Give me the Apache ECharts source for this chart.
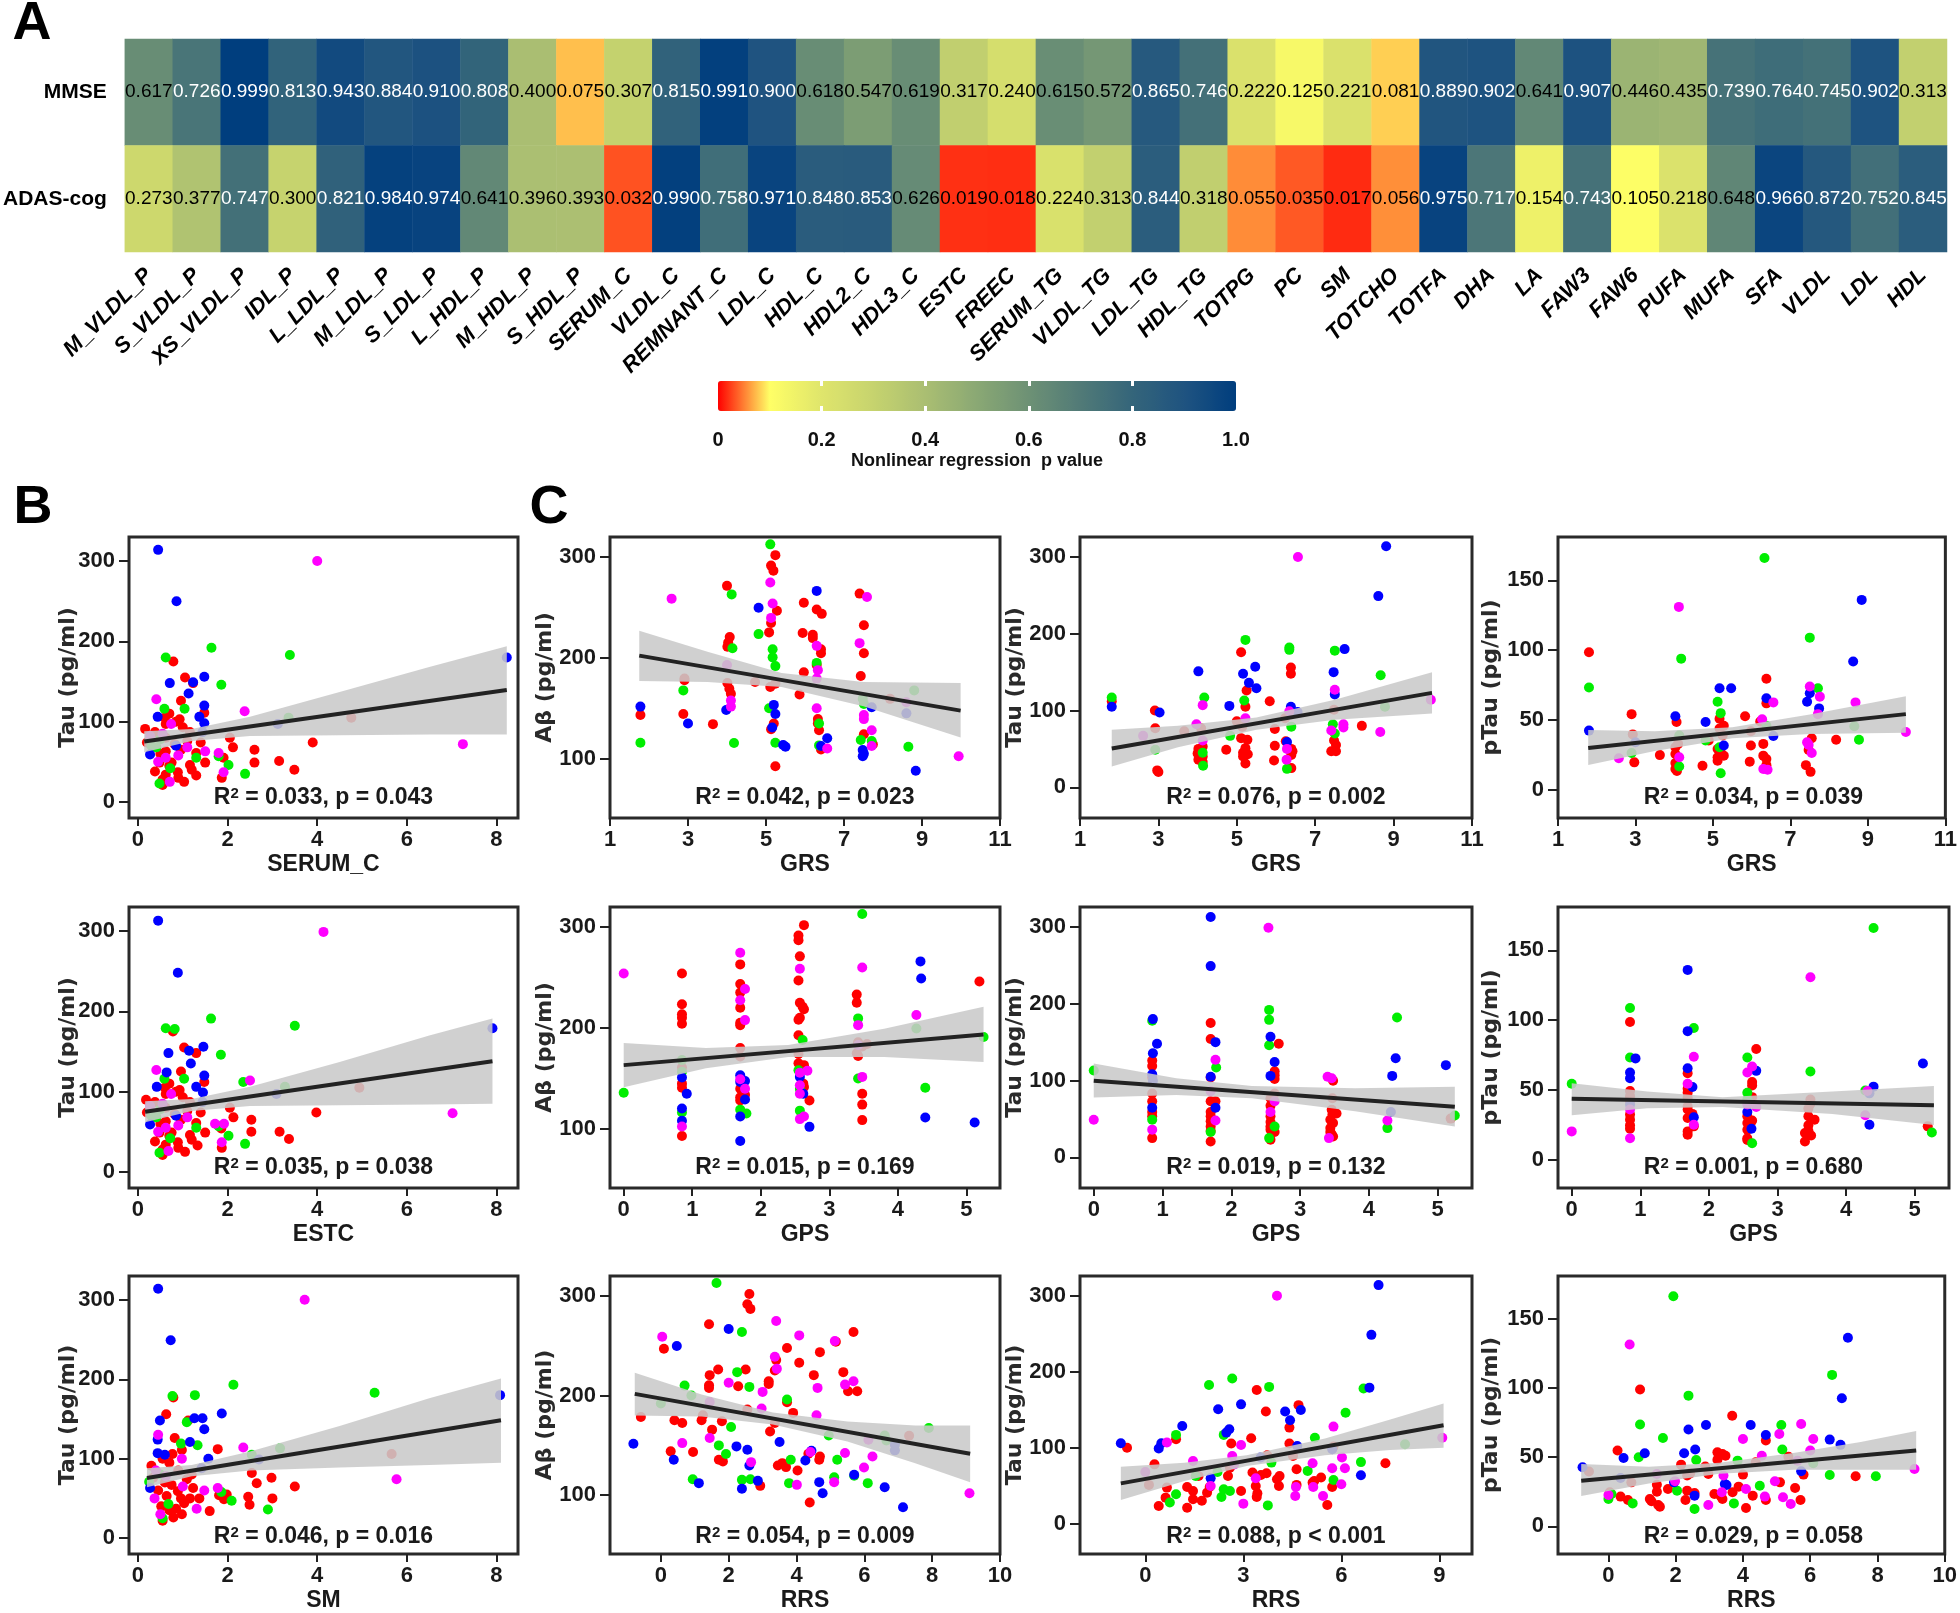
<!DOCTYPE html>
<html><head><meta charset="utf-8">
<script src="https://cdn.jsdelivr.net/npm/echarts@6/dist/echarts.min.js"></script>
<style>html,body{margin:0;padding:0;background:#fff}#c{width:1960px;height:1613px}</style>
</head><body><div id="c"></div><script>
// ---------------- Heatmap data ----------------
const categories = ['M_VLDL_P','S_VLDL_P','XS_VLDL_P','IDL_P','L_LDL_P','M_LDL_P','S_LDL_P','L_HDL_P','M_HDL_P','S_HDL_P','SERUM_C','VLDL_C','REMNANT_C','LDL_C','HDL_C','HDL2_C','HDL3_C','ESTC','FREEC','SERUM_TG','VLDL_TG','LDL_TG','HDL_TG','TOTPG','PC','SM','TOTCHO','TOTFA','DHA','LA','FAW3','FAW6','PUFA','MUFA','SFA','VLDL','LDL','HDL'];
const rowNames = ['MMSE','ADAS-cog'];
const mmseP = [0.617,0.726,0.999,0.813,0.943,0.884,0.910,0.808,0.400,0.075,0.307,0.815,0.991,0.900,0.618,0.547,0.619,0.317,0.240,0.615,0.572,0.865,0.746,0.222,0.125,0.221,0.081,0.889,0.902,0.641,0.907,0.446,0.435,0.739,0.764,0.745,0.902,0.313];
const adasP = [0.273,0.377,0.747,0.300,0.821,0.984,0.974,0.641,0.396,0.393,0.032,0.990,0.758,0.971,0.848,0.853,0.626,0.019,0.018,0.224,0.313,0.844,0.318,0.055,0.035,0.017,0.056,0.975,0.717,0.154,0.743,0.105,0.218,0.648,0.966,0.872,0.752,0.845];
const colorbarTicks = [0,0.2,0.4,0.6,0.8,1];
const colorbarNotches = [0.2,0.4,0.6,0.8];
const pColors = ['#ff0000','#ffff66','#dfe56c','#c6d36e','#aabe72','#8aa874','#6d9175','#517a77','#34657a','#1f5380','#003e7e'];

// ---------------- Tick labels ----------------
const bTicks = [0,2,4,6,8];
const tauTicks = [0,100,200,300];
const abTicks = [100,200,300];
const ptauTicks = [0,50,100,150];
const grsTicks = [1,3,5,7,9,11];
const gpsTicks = [0,1,2,3,4,5];
const rrsTicks = [0,2,4,6,8,10];
const rrsTicks3 = [0,3,6,9];

// ---------------- B1: Tau vs SERUM_C ----------------
const b1Red = [[0.79,175],[1.05,155],[1.23,148],[0.96,126],[1.48,111],[0.93,103],[4.76,105],[0.62,97],[0.16,91],[2.05,80],[3.9,74],[0.2,74],[0.62,63],[0.96,65],[1.3,61],[2.12,68],[2.6,65],[1.91,55],[2.6,49],[3.15,51],[1.5,49],[1.16,46],[0.75,49],[0.48,49],[3.49,40],[1.87,30],[1.3,33],[1.03,25],[0.55,21],[0.38,38],[0.62,34],[0.89,37],[0.38,87],[0.62,80],[0.82,72],[1.1,76],[1.16,87],[1.0,93],[1.4,74],[0.7,110],[0.85,100],[0.6,105],[0.5,60],[0.7,45],[1.2,40],[0.9,30],[0.55,28]];
const b1Green = [[1.64,192],[0.62,180],[3.39,183],[1.86,146],[1.04,116],[0.59,116],[3.36,105],[0.41,68],[1.8,57],[2.02,46],[2.39,35],[0.48,23],[0.72,42],[0.3,70],[1.3,55],[0.5,78]];
const b1Blue = [[0.45,314],[0.86,250],[8.23,180],[1.48,156],[0.71,148],[1.23,149],[1.13,135],[1.48,120],[0.44,106],[1.37,106],[3.12,97],[1.48,98],[1.44,87],[0.27,59],[0.85,70]];
const b1Magenta = [[4.0,300],[0.41,128],[2.38,113],[0.74,97],[7.25,72],[0.27,82],[1.5,63],[1.8,61],[0.62,55],[1.91,37],[0.71,25],[0.55,85],[1.1,68],[0.9,58],[0.45,50]];
const b1Line = [[0.14,75.2],[8.23,139.4]];
const b1BandX = [0.14,1.2,2.5,4.5,6.5,8.23];
const b1BandHi = [88,91,106,137,168,194];
const b1BandLo = [62,76,82,83,84,84];

// ---------------- B2: Tau vs ESTC ----------------
const b2Red = [[0.78,175],[1.03,155],[1.3,148],[0.96,125],[1.48,112],[0.93,102],[4.94,105],[0.62,97],[0.18,90],[2.05,80],[3.98,74],[0.2,74],[2.13,68],[2.53,65],[1.86,54],[2.53,50],[3.16,50],[3.37,41],[1.87,30],[1.33,33],[1.05,25],[0.55,21],[0.38,38],[0.62,34],[0.89,37],[0.38,87],[0.62,80],[0.82,72],[1.1,76],[1.16,87],[1.0,93],[1.4,74],[0.7,110],[0.85,100],[0.6,105],[0.5,60],[0.7,45],[1.2,40],[0.9,30],[0.55,28],[1.5,49],[1.16,46],[0.75,49],[0.48,49],[0.96,65],[1.3,61],[0.62,63]];
const b2Green = [[1.63,191],[0.62,179],[0.82,178],[3.5,182],[1.85,146],[1.03,116],[0.59,116],[2.35,112],[3.28,106],[0.41,68],[1.8,57],[2.02,45],[2.39,35],[0.48,24],[0.72,42],[0.3,70],[1.3,55],[0.5,78]];
const b2Blue = [[0.45,313],[0.89,248],[7.91,179],[1.46,156],[0.68,148],[1.14,151],[1.18,135],[0.64,124],[1.48,120],[0.42,106],[1.3,106],[3.09,97],[1.45,99],[1.44,87],[0.27,59],[0.85,70]];
const b2Magenta = [[4.14,299],[0.41,127],[2.5,114],[0.74,97],[7.02,73],[0.27,82],[1.72,60],[1.92,60],[0.62,55],[1.87,37],[0.68,26],[0.55,85],[1.1,68],[0.9,58],[0.45,50]];
const b2Line = [[0.16,74.9],[7.91,138]];
const b2BandX = [0.16,1.2,2.5,4.5,6.5,7.91];
const b2BandHi = [88,91,106,137,170,191];
const b2BandLo = [62,76,82,83,84,85];

// ---------------- B3: Tau vs SM ----------------
const b3Red = [[0.79,177],[0.63,156],[1.12,148],[0.82,126],[1.78,112],[0.98,111],[5.66,106],[0.77,106],[0.3,91],[2.54,82],[2.98,76],[2.65,69],[3.5,65],[1.81,54],[1.98,55],[1.92,49],[2.46,52],[3.0,50],[2.49,42],[1.6,34],[1.37,50],[0.98,30],[0.79,26],[0.55,22],[1.03,44],[1.16,50],[0.89,59],[0.64,53],[0.52,40],[0.34,76],[0.75,67],[1.09,74],[1.23,63],[0.96,50],[0.85,37],[0.55,100],[0.7,95],[0.9,85],[0.6,70],[1.2,80],[0.45,60],[0.7,35]];
const b3Green = [[2.13,193],[5.28,183],[0.77,179],[1.27,180],[1.09,146],[1.33,117],[0.96,119],[3.17,113],[2.54,105],[1.86,58],[2.09,47],[2.9,36],[0.55,25],[0.25,71],[0.68,43],[0.5,80]];
const b3Blue = [[0.45,314],[0.73,249],[8.08,180],[1.87,157],[0.49,148],[1.26,151],[1.44,151],[1.48,137],[0.44,124],[1.16,121],[0.44,107],[1.57,100],[2.7,99],[1.42,88],[0.27,63],[0.6,105]];
const b3Magenta = [[3.72,300],[0.45,130],[2.35,114],[0.98,100],[5.77,74],[1.48,60],[1.78,63],[0.5,30],[1.31,37],[0.37,50],[0.62,78],[0.4,85],[1.0,65]];
const b3Line = [[0.2,75.7],[8.1,148.5]];
const b3BandX = [0.2,1.2,2.5,4.5,6.5,8.1];
const b3BandHi = [88,92,109,141,176,201];
const b3BandLo = [64,78,85,89,92,95];

// ---------------- C row 1: GRS ----------------
const abGrsRed = [[5.24,302],[5.13,291.6],[5.19,286.6],[4.0,271.5],[7.4,263.8],[5.97,254.8],[5.28,246.7],[6.3,248],[6.43,243.7],[5.13,234.7],[7.51,232.3],[5.08,225.3],[5.94,224.6],[6.2,223],[6.2,219.6],[4.07,220.6],[4.03,215.2],[4.01,211],[6.41,208.5],[6.41,204.5],[7.51,204.5],[6.3,192.8],[5.97,185.8],[7.43,182],[2.91,179.4],[2.91,177.7],[4.72,176],[4.01,175],[5.24,174.4],[5.11,171],[4.06,169.3],[4.1,164.3],[5.86,163.6],[8.18,159.3],[2.88,144.2],[1.78,143.2],[6.33,139.2],[3.64,134.2],[5.2,134.8],[6.33,134.8],[5.13,129.1],[6.36,128.1],[7.51,124.1],[7.74,114.1],[6.41,109],[5.24,92.3]];
const abGrsGreen = [[5.11,312.7],[4.12,263],[4.81,223.6],[4.14,209.5],[5.17,208.5],[5.17,200.5],[5.24,191.8],[6.3,195],[2.88,167.7],[8.8,167.7],[7.48,159.3],[7.51,154.3],[5.08,149.9],[6.36,134.8],[7.43,118.4],[7.71,117.4],[1.78,115.7],[4.18,115.4],[5.24,115.7],[6.36,113.1],[8.65,111.7]];
const abGrsBlue = [[6.3,266.5],[4.81,249.7],[7.71,150.9],[1.78,151.6],[5.2,153.3],[3.98,148.2],[5.24,144.2],[8.6,144.9],[3.0,134.8],[5.16,130.8],[6.57,120.1],[5.44,113.4],[5.5,111.7],[6.41,112.4],[7.48,108.4],[7.51,104.7],[7.48,102.3],[8.84,87.9]];
const abGrsMagenta = [[5.11,274.9],[2.58,258.8],[7.59,260.5],[5.17,254],[5.13,239.7],[6.3,211.9],[7.4,214.6],[4.0,192.8],[6.33,187.8],[6.3,179.4],[4.1,157.6],[8.6,155.9],[4.1,151.6],[6.3,149.9],[7.51,143.2],[7.51,139.2],[7.71,128.1],[7.71,112.4],[6.57,110],[9.94,102.3]];
const abGrsLine = [[1.75,202.2],[9.99,147.6]];
const abGrsBandX = [1.75,3.5,5.4,7.5,9.99];
const abGrsBandHi = [227,206,185,176,175];
const abGrsBandLo = [177,176,171,152,121];

const tauGrsRed = [[5.11,176],[6.38,148],[6.38,156],[5.25,126],[1.81,112],[5.84,112],[5.22,105],[2.91,100],[7.48,101],[6.23,90],[5.0,86],[4.09,77],[3.66,73],[2.92,77],[5.97,76],[8.19,80],[5.14,79],[5.11,64],[5.27,62],[7.48,61],[6.25,60],[7.53,55],[4.13,53],[5.97,54],[5.22,51],[4.73,49],[4.02,50],[6.39,50],[6.42,47],[7.41,47],[7.53,47],[4.0,44],[5.16,45],[5.28,43],[6.39,42],[4.13,40],[4.02,36],[5.95,35],[4.13,33],[5.16,40],[5.22,31],[6.39,25],[2.97,22],[3.0,20]];
const tauGrsGreen = [[5.22,192],[6.34,182],[6.34,179],[7.5,178],[8.67,146],[1.81,117],[4.17,117],[5.19,113],[8.78,105],[6.39,79],[7.45,82],[4.83,67],[7.5,70],[2.92,49],[4.13,45],[4.14,28],[6.28,24]];
const tauGrsBlue = [[8.81,314],[8.61,249],[7.75,180],[4.02,151],[7.47,150],[5.16,148],[5.47,157],[5.31,136],[5.5,129],[7.5,121],[1.81,105],[4.81,106],[3.03,97.5],[6.55,98],[6.38,105],[6.28,59]];
const tauGrsMagenta = [[6.56,300],[7.5,127],[9.95,114],[4.13,107],[6.34,99],[5.22,90],[3.97,82],[7.72,82],[7.72,78],[7.41,74],[8.66,72],[2.61,67],[4.13,61],[6.28,50],[6.27,36]];
const tauGrsLine = [[1.81,50.5],[9.98,123]];
const tauGrsBandX = [1.81,3.5,5.5,7.5,9.98];
const tauGrsBandHi = [75,80,91,114,150];
const tauGrsBandLo = [27,52,75,88,96];

const ptauGrsRed = [[1.8,98.6],[6.38,79.6],[6.38,62],[2.9,54.3],[5.83,52.8],[4.06,48.7],[5.17,51],[6.22,49],[5.28,46],[5.17,44],[5.98,42],[2.93,39.8],[5.25,39],[7.55,37],[8.18,36],[4.89,35.5],[4.1,33],[5.98,31.8],[6.3,33],[4.03,30.6],[5.12,29.4],[7.47,28.7],[5.2,27],[3.63,25],[4.03,25.8],[5.28,24.6],[6.3,24.6],[5.12,23.4],[6.38,22.2],[5.12,21],[5.95,20.3],[4.03,19.3],[2.97,19.8],[7.4,17.8],[4.73,17.4],[6.38,17.8],[4.03,15],[4.07,13.7],[7.52,13]];
const ptauGrsGreen = [[6.33,166],[7.5,109],[4.18,94],[1.8,73.3],[7.71,72.8],[5.12,63.2],[5.2,55],[6.38,46],[8.65,45.6],[4.13,39],[8.77,36],[4.81,35.5],[5.17,30.6],[2.9,26.5],[4.13,16.9],[5.2,12]];
const ptauGrsBlue = [[8.84,136],[8.62,92],[5.17,72.8],[5.47,72.8],[7.5,69.2],[7.43,63.2],[6.38,65.6],[7.74,58.4],[4.03,52.8],[4.81,48.7],[1.8,42.5],[6.56,38.6],[3.0,34.2],[5.28,31.8]];
const ptauGrsMagenta = [[4.12,131],[7.5,74],[7.76,66.8],[6.56,62.7],[8.68,62.7],[7.71,54.3],[6.27,50.6],[9.98,41.5],[7.43,34.2],[7.47,32.3],[7.55,26.5],[2.57,22.7],[4.13,23.4],[6.3,15],[6.41,14.5]];
const ptauGrsLine = [[1.78,30.1],[9.98,54.3]];
const ptauGrsBandX = [1.78,3.5,5.5,7.5,9.98];
const ptauGrsBandHi = [43,42,45,54,67];
const ptauGrsBandLo = [18,28,37,40,41];

// ---------------- C row 2: GPS ----------------
const abGpsRed = [[2.63,302],[2.55,291.6],[2.55,287],[2.57,271],[1.7,263],[0.85,254],[5.19,246],[2.55,247],[1.7,243.6],[1.7,235],[3.4,233],[3.4,225],[0.85,223.5],[2.57,225],[2.61,221],[1.7,220],[2.63,218.5],[0.85,213.4],[0.85,210],[2.57,210],[2.55,208],[1.7,205],[1.7,202.7],[0.85,204],[2.55,192.6],[3.42,185.6],[3.48,181.5],[3.55,183.9],[1.7,180],[1.7,171.5],[3.4,174.8],[2.55,174],[3.42,172],[2.55,164.8],[2.63,163],[0.85,160.7],[1.7,139.6],[1.77,133.6],[1.7,131],[0.85,144.6],[0.85,140.6],[2.62,144.6],[2.63,141.3],[3.48,134.6],[1.7,127.9],[2.71,127.9],[3.48,123.8],[3.48,108.4],[0.85,92.6]];
const abGpsGreen = [[3.48,313],[3.42,209.4],[4.27,199.3],[5.25,191],[2.61,188],[0.85,168],[2.55,158],[0.85,156.4],[3.42,149.7],[2.57,139.3],[0,135.6],[0.85,116],[1.7,118.8],[1.79,115],[2.57,117.8],[4.4,140.6]];
const abGpsBlue = [[4.33,266],[4.34,249],[0.85,150.7],[1.7,153],[2.57,151.3],[1.77,147.3],[1.7,146.3],[2.62,134.6],[0.92,134.6],[1.77,128.9],[0.85,120],[0.85,107.7],[4.4,111],[5.12,106],[1.7,112],[2.71,101.7],[1.7,87.6]];
const abGpsMagenta = [[1.7,274.5],[3.48,260],[0,254],[2.57,258.7],[1.77,238.6],[1.7,227.5],[1.77,207.7],[3.42,202.7],[4.27,212.7],[3.42,183],[2.68,157.4],[2.57,155.4],[3.48,151.3],[1.7,149],[2.57,143],[2.57,134.6],[1.77,139.6],[2.57,109.4],[2.63,112],[0.85,102]];
const abGpsLine = [[0,163],[5.25,193.3]];
const abGpsBandX = [0,1.2,2.4,3.8,5.25];
const abGpsBandHi = [185,180,183,199,221];
const abGpsBandLo = [141,160,171,171,166];

const tauGpsRed = [[1.7,175],[1.7,154],[2.69,148],[0.85,126],[0.85,119],[2.63,112],[2.63,107],[1.7,104],[3.48,99.6],[2.63,102],[0.85,104],[0.85,83],[2.63,83],[2.57,77],[3.47,77],[1.7,73],[1.77,73],[0.85,73],[2.57,67],[3.46,62],[1.7,59],[0.85,59],[3.47,55.7],[3.53,57],[0.85,53.5],[1.7,53.5],[2.57,53.5],[5.19,50.4],[3.44,49],[1.7,47],[2.57,46],[3.48,44.7],[2.57,40],[1.7,40],[3.44,38],[2.57,36],[2.63,33],[1.7,34.6],[3.46,30],[3.48,27],[3.44,33],[0.85,25],[2.57,23],[1.7,20.6]];
const tauGpsGreen = [[2.55,192],[2.55,179],[4.41,182],[0.85,178],[2.55,146],[1.78,117],[0,113],[5.25,54.4],[0.85,49],[2.63,40],[4.27,38],[1.7,33],[2.55,25]];
const tauGpsBlue = [[1.7,313],[1.7,249],[0.86,180],[0.92,148],[1.77,150],[2.57,157],[0.86,135.5],[4.39,129],[2.63,124],[5.12,120],[2.57,106],[4.34,106],[1.7,105],[0.85,108],[0.86,99.6],[0.85,64.5],[1.77,64.5],[4.32,59]];
const tauGpsMagenta = [[2.54,299],[1.77,127],[3.46,103],[3.4,105],[1.7,86],[2.63,73],[2.57,59],[0,49],[4.27,48],[1.77,48],[0.85,36],[3.42,25]];
const tauGpsLine = [[0,99.6],[5.25,65.8]];
const tauGpsBandX = [0,1.2,2.3,3.8,5.25];
const tauGpsBandHi = [122,103,93,90,92];
const tauGpsBandLo = [78,81,77,60,40];

const ptauGpsRed = [[0.85,98.7],[2.69,79.4],[1.69,62.1],[2.63,55.8],[2.63,53.4],[1.69,51],[0.85,49.4],[1.69,48.1],[0.85,45.7],[1.69,44.5],[2.63,45],[3.48,43.3],[3.48,40.2],[0.85,42.1],[1.69,38.5],[1.69,36.1],[3.45,36.8],[1.76,33],[0.85,32.5],[2.56,31.3],[1.69,30.1],[0.85,28.9],[3.45,31.3],[3.54,28.9],[2.63,28.2],[2.56,26.5],[1.78,24.1],[3.45,24.8],[0.85,24.8],[5.19,24.1],[0.85,22.4],[2.56,21.7],[3.45,20.9],[1.69,20.5],[1.69,18.1],[3.49,17.6],[3.4,19.3],[2.56,15.6],[2.56,14.4],[3.4,13.2]];
const ptauGpsGreen = [[4.4,166],[0.85,108.8],[1.78,94.4],[0.85,73.4],[2.56,73.4],[3.48,63.3],[0,54.6],[4.28,49.8],[2.56,48.1],[2.56,43.3],[5.25,19.7],[2.63,12]];
const ptauGpsBlue = [[1.69,136],[1.69,92.2],[0.93,72.7],[2.69,63.8],[1.69,65.7],[0.85,62.6],[5.12,69.1],[0.85,58.5],[1.76,52.2],[4.4,52.5],[4.34,47.7],[0.85,39.7],[2.56,34.4],[1.78,30.6],[4.34,25.3],[2.62,22.4]];
const ptauGpsMagenta = [[3.48,130.7],[1.78,73.9],[2.63,66.9],[2.56,62.6],[1.69,54.6],[4.31,49.4],[2.69,38],[0.85,36.1],[2.56,39.7],[4.28,32],[1.78,25.3],[0,20.5],[0.85,15.6]];
const ptauGpsLine = [[0,43.8],[5.28,39.2]];
const ptauGpsBandX = [0,1.1,2.2,3.8,5.28];
const ptauGpsBandHi = [55,49,45,49,53];
const ptauGpsBandLo = [32,37,38,33,25];

// ---------------- C row 3: RRS ----------------
const abRrsRed = [[2.61,302],[2.55,291.6],[2.64,287],[1.42,271.5],[5.68,263.8],[5.16,254],[0.09,247],[3.72,247.7],[4.69,243.6],[3.4,235.6],[4.08,232.9],[1.69,226.2],[2.5,226.2],[3.36,225.2],[5.38,223.5],[1.44,220.5],[4.51,220.5],[3.18,214.4],[3.18,211.7],[1.42,210.4],[1.42,207.7],[2.28,209.4],[5.52,204.4],[5.79,204.4],[3.72,193.3],[2.55,186],[3.9,182.6],[-0.59,178.5],[1.24,180.2],[0.4,175.2],[0.63,172.5],[1.8,174.2],[3.36,172.5],[1.2,175.2],[1.51,165.8],[3.22,164],[7.32,159.7],[0.29,144],[0.95,143.3],[4.35,141.6],[4.69,138.9],[4.67,135.6],[1.71,135.6],[1.83,133.9],[3.45,129.9],[3.69,128.2],[3.58,132.2],[4.03,124.8],[2.93,109.4],[4.39,92.6]];
const abRrsGreen = [[1.64,313],[2.39,263.8],[2.25,223.5],[0.7,210],[2.61,208.7],[0.9,200],[0,192],[3.72,196],[2.07,168.5],[7.9,167.4],[4.95,160],[6.6,160],[6.65,155],[1.71,150],[1.92,141.3],[3.83,135.6],[5.2,135.6],[5.7,119.5],[0.94,116.1],[2.39,115.4],[2.64,116.1],[5.11,118.1],[6.1,112.1],[3.78,112.1]];
const abRrsBlue = [[2.0,266.8],[0.47,249.7],[3.5,153.4],[6.9,150.7],[-0.81,151.7],[2.23,149],[2.55,145.6],[6.9,145],[4.44,144.6],[0.38,135.6],[4.26,134.9],[2.61,129.9],[5.7,120.5],[2.86,114.4],[1.12,112.1],[4.67,113.1],[6.6,108],[2.39,106.4],[4.77,102],[7.14,87.9]];
const abRrsMagenta = [[3.4,274.8],[0.04,259],[4.08,260.4],[5.13,254.7],[3.36,238.9],[3.42,226.8],[5.43,211],[5.68,214.4],[2.0,212.8],[4.62,207.7],[3.0,203.7],[1.44,193.6],[2.97,187],[4.59,180.2],[6.12,155.7],[1.44,157.4],[0.63,152.3],[4.41,143.3],[5.43,142.3],[2.66,133.2],[6.24,138.9],[5.99,127.9],[5.11,113.1],[4.01,110.4],[9.1,102]];
const abRrsLine = [[-0.77,201.7],[9.12,141.6]];
const abRrsBandX = [-0.77,1.2,3.3,5.5,7.5,9.12];
const abRrsBandHi = [223,201,183,174,170,170];
const abRrsBandLo = [180,179,171,154,132,113];

const tauRrsRed = [[3.41,176],[4.69,156],[3.69,147.5],[4.41,126.4],[3.24,112.4],[0.94,111],[2.63,105.4],[4.41,105.4],[-0.56,100],[5.76,101.4],[3.73,90],[4.52,89],[7.35,79.5],[0.28,78],[2.59,73.7],[4.63,71.6],[3.28,67.2],[3.71,66.3],[3.54,64],[1.63,62.8],[4.11,62.8],[2.53,62.8],[4.03,58.4],[5.38,60.6],[5.12,54],[0.11,51],[5.17,56.2],[0.66,47.4],[1.28,48.3],[1.46,43],[1.89,40.8],[1.97,48.3],[2.93,43],[3.38,49.6],[3.43,40],[4.09,49.6],[4.63,51],[5.72,48.3],[3.41,35],[1.73,30],[1.46,32],[0.62,34.2],[5.57,24.6],[0.41,23.3],[1.28,21]];
const tauRrsGreen = [[2.66,191],[1.95,182.6],[3.79,180],[6.68,177.8],[6.13,146],[2.4,116.8],[0.94,116.8],[5.19,113],[7.95,104.5],[6.6,81],[3.86,80.3],[4.97,69.4],[2.21,68],[1.54,62.8],[5.76,57.5],[2.59,43],[2.4,45.2],[2.33,35],[0.94,38.6],[0.75,27.7],[3.75,24]];
const tauRrsBlue = [[7.14,314],[6.92,248.5],[6.86,179],[2.93,157],[4.76,149.7],[2.23,150.6],[4.28,147.5],[4.43,136],[1.13,128.6],[2.57,124.2],[2.48,119.8],[0.49,105.8],[-0.75,105.8],[4.65,102.3],[0.41,98.8],[5.72,98],[3.53,87],[2.0,59.7],[6.6,63.7]];
const tauRrsMagenta = [[4.03,300],[5.76,127.7],[9.09,113],[0.66,106.7],[2.93,103.6],[2.66,89],[6.02,87],[5.12,79.5],[1.46,82.5],[2.72,78],[5.72,73],[6.11,73],[0,68],[3.38,59.7],[6.0,51.8],[2.0,49.6],[4.61,48.3],[5.14,48.3],[4.59,36.4],[5.44,36.4],[3.0,26.3]];
const tauRrsLine = [[-0.75,53],[9.13,129.5]];
const tauRrsBandX = [-0.75,1.2,3.1,5.5,7.5,9.13];
const tauRrsBandHi = [75,80,90,112,137,158];
const tauRrsBandLo = [31,56,76,90,97,100];

const ptauRrsRed = [[0.94,98.9],[3.68,80],[4.68,62],[0.27,54.8],[3.24,53.5],[3.39,52.3],[3.48,51.1],[5.35,50.4],[3.24,48.2],[4.38,46.3],[2.16,44.6],[2.88,43.2],[-0.58,39.6],[2.43,38.3],[2.97,37.9],[5.8,37.4],[7.35,36.2],[4.0,37.4],[2.34,36.7],[0.68,31.8],[5.1,31.8],[1.44,30.1],[1.77,27],[3.87,28.7],[5.55,27.7],[2.34,25.8],[3.69,24.6],[0.04,24.6],[1.44,25],[3.15,23.4],[2.56,24.1],[3.33,22.2],[3.39,19.8],[4.29,22.2],[0.36,21.5],[0.58,19],[1.23,19.8],[1.28,18.1],[2.29,19],[4.68,19],[5.71,19],[1.48,15.4],[1.53,14.2],[4.09,13.3]];
const ptauRrsGreen = [[1.93,166.4],[6.65,109.5],[2.38,94.5],[0.94,73.6],[5.14,73.3],[1.62,63.9],[5.17,55.5],[0.9,50],[2.61,48],[3.84,47.5],[6.09,45.6],[6.58,37.1],[7.95,36.2],[4.5,29.4],[2.04,25.8],[0.09,23.4],[0,19.8],[0.72,16.6],[3.73,16.6],[2.56,12.5]];
const ptauRrsBlue = [[7.12,136.3],[6.94,92.6],[2.9,73.3],[4.23,73.3],[2.38,70],[4.68,66],[6.58,62.7],[2.58,55.5],[2.25,52.8],[1.08,52.8],[0.45,49.4],[6.9,58.9],[-0.77,42.7],[5.73,39.8],[0.36,35],[1.95,31.8],[3.46,30.6],[3.51,29.9],[2.56,22.2]];
const ptauRrsMagenta = [[0.63,131.5],[5.73,74],[4.0,63.2],[6.09,63.2],[5.08,66.8],[6.0,54.8],[4.56,51.1],[5.62,47.5],[9.1,41.5],[3.42,36.7],[1.44,37.9],[1.98,32.6],[4.95,32.6],[4.09,27],[0,22.7],[3.37,24.6],[4.65,21.5],[5.19,21],[2.97,15.4],[5.42,16.2]];
const ptauRrsLine = [[-0.81,33],[9.15,54.8]];
const ptauRrsBandX = [-0.81,1.2,3.3,5.5,7.5,9.15];
const ptauRrsBandHi = [45,43,46,53,61,69];
const ptauRrsBandLo = [22,31,38,41,41,41];

// ---------------- Statistics text ----------------
const r2Values = ['0.033','0.042','0.076','0.034','0.035','0.015','0.019','0.001','0.046','0.054','0.088','0.029'];
const pValues = ['p = 0.043','p = 0.023','p = 0.002','p = 0.039','p = 0.038','p = 0.169','p = 0.132','p = 0.680','p = 0.016','p = 0.009','p < 0.001','p = 0.058'];

// ---------------- Layout / style ----------------
const FONT = "'Liberation Sans', Arial, Helvetica, sans-serif";
const YFONT = "'DejaVu Sans', Verdana, sans-serif";
const ptColors = ['#ff0000','#00ee00','#0000ff','#ff00ff'];
const colLeft = [129, 610, 1080, 1558];
const colWidth = [389, 390, 392, 391];
const colNameGap = [50, 54, 54, 56];
const rowTop = [537, 907, 1276];
const rowH = 281;

const panels = [
  {row:0,col:0,x:[-0.2,8.48],y:[-20,330],xt:bTicks,yt:tauTicks,xn:'SERUM_C',yn:'Tau (pg/ml)',pts:[b1Red,b1Green,b1Blue,b1Magenta],line:b1Line,band:[b1BandX,b1BandHi,b1BandLo]},
  {row:0,col:1,x:[1,11],y:[41,320],xt:grsTicks,yt:abTicks,xn:'GRS',yn:'A\u03b2 (pg/ml)',pts:[abGrsRed,abGrsGreen,abGrsBlue,abGrsMagenta],line:abGrsLine,band:[abGrsBandX,abGrsBandHi,abGrsBandLo]},
  {row:0,col:2,x:[1,11],y:[-40,326],xt:grsTicks,yt:tauTicks,xn:'GRS',yn:'Tau (pg/ml)',pts:[tauGrsRed,tauGrsGreen,tauGrsBlue,tauGrsMagenta],line:tauGrsLine,band:[tauGrsBandX,tauGrsBandHi,tauGrsBandLo]},
  {row:0,col:3,x:[1,11],y:[-20,181],xt:grsTicks,yt:ptauTicks,xn:'GRS',yn:'pTau (pg/ml)',pts:[ptauGrsRed,ptauGrsGreen,ptauGrsBlue,ptauGrsMagenta],line:ptauGrsLine,band:[ptauGrsBandX,ptauGrsBandHi,ptauGrsBandLo]},
  {row:1,col:0,x:[-0.2,8.48],y:[-20,330],xt:bTicks,yt:tauTicks,xn:'ESTC',yn:'Tau (pg/ml)',pts:[b2Red,b2Green,b2Blue,b2Magenta],line:b2Line,band:[b2BandX,b2BandHi,b2BandLo]},
  {row:1,col:1,x:[-0.2,5.49],y:[41,320],xt:gpsTicks,yt:abTicks,xn:'GPS',yn:'A\u03b2 (pg/ml)',pts:[abGpsRed,abGpsGreen,abGpsBlue,abGpsMagenta],line:abGpsLine,band:[abGpsBandX,abGpsBandHi,abGpsBandLo]},
  {row:1,col:2,x:[-0.2,5.5],y:[-40,326],xt:gpsTicks,yt:tauTicks,xn:'GPS',yn:'Tau (pg/ml)',pts:[tauGpsRed,tauGpsGreen,tauGpsBlue,tauGpsMagenta],line:tauGpsLine,band:[tauGpsBandX,tauGpsBandHi,tauGpsBandLo]},
  {row:1,col:3,x:[-0.2,5.5],y:[-20,181],xt:gpsTicks,yt:ptauTicks,xn:'GPS',yn:'pTau (pg/ml)',pts:[ptauGpsRed,ptauGpsGreen,ptauGpsBlue,ptauGpsMagenta],line:ptauGpsLine,band:[ptauGpsBandX,ptauGpsBandHi,ptauGpsBandLo]},
  {row:2,col:0,x:[-0.2,8.48],y:[-20,330],xt:bTicks,yt:tauTicks,xn:'SM',yn:'Tau (pg/ml)',pts:[b3Red,b3Green,b3Blue,b3Magenta],line:b3Line,band:[b3BandX,b3BandHi,b3BandLo]},
  {row:2,col:1,x:[-1.5,10],y:[41,320],xt:rrsTicks,yt:abTicks,xn:'RRS',yn:'A\u03b2 (pg/ml)',pts:[abRrsRed,abRrsGreen,abRrsBlue,abRrsMagenta],line:abRrsLine,band:[abRrsBandX,abRrsBandHi,abRrsBandLo]},
  {row:2,col:2,x:[-2,10],y:[-40,326],xt:rrsTicks3,yt:tauTicks,xn:'RRS',yn:'Tau (pg/ml)',pts:[tauRrsRed,tauRrsGreen,tauRrsBlue,tauRrsMagenta],line:tauRrsLine,band:[tauRrsBandX,tauRrsBandHi,tauRrsBandLo]},
  {row:2,col:3,x:[-1.5,10],y:[-20,181],xt:rrsTicks,yt:ptauTicks,xn:'RRS',yn:'pTau (pg/ml)',pts:[ptauRrsRed,ptauRrsGreen,ptauRrsBlue,ptauRrsMagenta],line:ptauRrsLine,band:[ptauRrsBandX,ptauRrsBandHi,ptauRrsBandLo]}
];

const grids = [], xAxes = [], yAxes = [], series = [], graphics = [];

// Heatmap grid
grids.push({left:123, top:39, width:1824, height:213});
xAxes.push({type:'category', gridIndex:0, data:categories, axisLine:{show:false}, axisTick:{show:false}, splitLine:{show:false},
  axisLabel:{interval:0, rotate:45, margin:20, fontFamily:FONT, fontSize:22, fontWeight:'bold', fontStyle:'italic', color:'#000'}});
yAxes.push({type:'category', gridIndex:0, data:rowNames, inverse:true, axisLine:{show:false}, axisTick:{show:false}, splitLine:{show:false},
  axisLabel:{margin:18, fontFamily:FONT, fontSize:21, fontWeight:'bold', color:'#000'}});
const heatData = [];
[mmseP, adasP].forEach((arr, r) => arr.forEach((v, c) => heatData.push({value:[c, r, v], label:{color: v >= 0.7 ? '#ffffff' : '#000000'}})));
series.push({type:'heatmap', xAxisIndex:0, yAxisIndex:0, data:heatData, silent:true,
  label:{show:true, formatter:p => p.value[2].toFixed(3), fontFamily:FONT, fontSize:19},
  emphasis:{disabled:true}});

// Colorbar tick grid
grids.push({left:718, top:381, width:518, height:30});
xAxes.push({type:'value', gridIndex:1, min:0, max:1, position:'bottom', z:10, axisLine:{show:false, onZero:false}, splitLine:{show:false},
  axisTick:{show:true, inside:true, length:5, customValues:colorbarNotches, lineStyle:{color:'#ffffff', width:3}},
  axisLabel:{customValues:colorbarTicks, formatter:v => v === 0 ? '0' : v.toFixed(1), margin:19, fontFamily:FONT, fontSize:20, fontWeight:'bold', color:'#111'},
  name:'Nonlinear regression  p value', nameLocation:'middle', nameGap:41, nameMoveOverlap:false,
  nameTextStyle:{fontFamily:FONT, fontSize:18, fontWeight:'bold', color:'#111'}});
xAxes.push({type:'value', gridIndex:1, min:0, max:1, position:'top', z:10, axisLine:{show:false, onZero:false}, splitLine:{show:false},
  axisLabel:{show:false},
  axisTick:{show:true, inside:true, length:5, customValues:colorbarNotches, lineStyle:{color:'#ffffff', width:3}}});
yAxes.push({type:'value', gridIndex:1, show:false});

const tickFont = {fontFamily:FONT, fontSize:22, fontWeight:'bold', color:'#1a1a1a'};

panels.forEach((P, i) => {
  const gi = 2 + i, xi = 3 + i, yi = 2 + i;
  const left = colLeft[P.col], top = rowTop[P.row], w = colWidth[P.col];
  grids.push({left:left, top:top, width:w, height:rowH, show:true, borderColor:'#2a2a2a', borderWidth:3, backgroundColor:'rgba(0,0,0,0)'});
  xAxes.push({type:'value', gridIndex:gi, min:P.x[0], max:P.x[1], position:'bottom', axisLine:{show:false, onZero:false}, splitLine:{show:false},
    axisTick:{show:true, length:8, customValues:P.xt, lineStyle:{color:'#222', width:2}},
    axisLabel:Object.assign({customValues:P.xt, margin:11}, tickFont),
    name:P.xn, nameLocation:'middle', nameGap:35, nameMoveOverlap:false,
    nameTextStyle:{fontFamily:FONT, fontSize:23, fontWeight:'bold', color:'#1a1a1a'}});
  yAxes.push({type:'value', gridIndex:gi, min:P.y[0], max:P.y[1], position:'left', axisLine:{show:false, onZero:false}, splitLine:{show:false},
    axisTick:{show:true, length:10, customValues:P.yt, lineStyle:{color:'#222', width:2}},
    axisLabel:Object.assign({customValues:P.yt, margin:14}, tickFont),
    name:P.yn, nameLocation:'middle', nameGap:colNameGap[P.col], nameMoveOverlap:false,
    nameTextStyle:{fontFamily:YFONT, fontSize:22, fontWeight:'bold', color:'#2a2a2a'}});
  P.pts.forEach((arr, k) => series.push({type:'scatter', xAxisIndex:xi, yAxisIndex:yi, data:arr, symbolSize:10, silent:true, z:2,
    itemStyle:{color:ptColors[k], opacity:1}}));
  const bx = P.band[0], hi = P.band[1], lo = P.band[2];
  series.push({type:'custom', xAxisIndex:xi, yAxisIndex:yi, silent:true, z:3, clip:true,
    data:[[bx[0], hi[0]]],
    renderItem:(params, api) => {
      const pts = [];
      for (let j = 0; j < bx.length; j++) pts.push(api.coord([bx[j], hi[j]]));
      for (let j = bx.length - 1; j >= 0; j--) pts.push(api.coord([bx[j], lo[j]]));
      return {type:'polygon', shape:{points:pts}, style:{fill:'#c9c9c9', opacity:0.88}};
    }});
  series.push({type:'line', xAxisIndex:xi, yAxisIndex:yi, data:P.line, symbol:'none', silent:true, z:4,
    lineStyle:{color:'#222', width:4}});
  graphics.push({type:'text', x:left + w / 2, y:top + rowH - 20, z:100, silent:true,
    style:{text:'R{s|2} = ' + r2Values[i] + ', ' + pValues[i], align:'center', verticalAlign:'middle',
      fontFamily:FONT, fontSize:23, fontWeight:'bold', fill:'#1a1a1a',
      rich:{s:{fontFamily:FONT, fontSize:15, fontWeight:'bold', fill:'#1a1a1a', verticalAlign:'top', lineHeight:23}}}});
});

// Panel letters
[['A',32,24],['B',33,508],['C',549,508]].forEach(t => graphics.push({type:'text', x:t[1], y:t[2], z:100, silent:true,
  style:{text:t[0], align:'center', verticalAlign:'middle', fontFamily:FONT, fontSize:54, fontWeight:'bold', fill:'#000'}}));

const chart = echarts.init(document.getElementById('c'), null, {renderer:'canvas', width:1960, height:1613});
chart.setOption({
  backgroundColor:'#ffffff',
  animation:false,
  grid:grids, xAxis:xAxes, yAxis:yAxes,
  visualMap:{type:'continuous', seriesIndex:0, min:0, max:1, orient:'horizontal', left:718, top:381,
    itemWidth:30, itemHeight:518, padding:0, calculable:false, hoverLink:false, inRange:{color:pColors}},
  series:series,
  graphic:graphics
});
</script></body></html>
